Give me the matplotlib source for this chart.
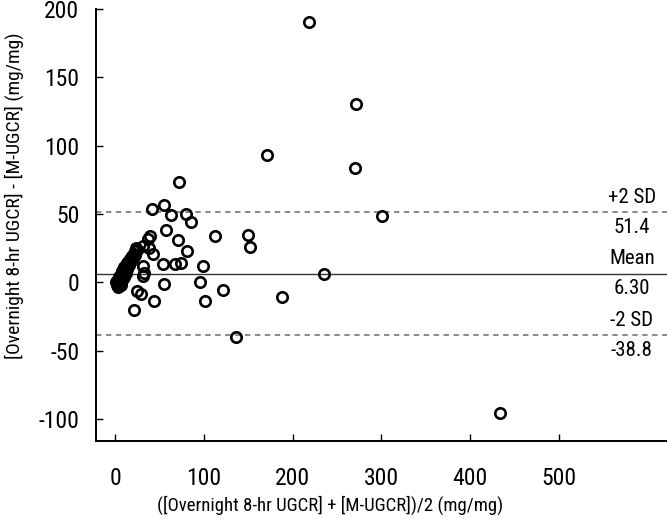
import numpy as np
import matplotlib
matplotlib.use('Agg')
import matplotlib.pyplot as plt
from matplotlib import font_manager

# pick a narrow sans face if one is installed
prefer = ['Liberation Sans Narrow', 'Roboto Condensed', 'Open Sans Condensed',
          'Noto Sans Condensed', 'DejaVu Sans Condensed', 'Noto Sans', 'DejaVu Sans']
narrow = [f for f in font_manager.fontManager.ttflist
          if f.style == 'normal' and f.weight in (400, 'normal', 'regular')
          and (f.stretch in ('condensed', 'semi-condensed', 'extra-condensed')
               or 'Condensed' in f.name or 'Narrow' in f.name)]
chosen = None
for name in prefer:
    for f in narrow:
        if f.name == name or (name.startswith(f.name) and f.name in name):
            chosen = f
            break
    if chosen:
        break
if chosen is None and narrow:
    chosen = narrow[0]
if chosen is not None:
    plt.rcParams['font.family'] = [chosen.name, 'DejaVu Sans']
    plt.rcParams['font.stretch'] = chosen.stretch
else:
    plt.rcParams['font.family'] = ['Liberation Sans', 'DejaVu Sans']
plt.rcParams['axes.unicode_minus'] = False

# Mean of the two methods (x) and difference (y)
mean_vals = [218.5, 271, 171.5, 270.6, 300.3, 113, 149.4, 152, 98.8, 235, 95.7,
             121.3, 101.4, 187.7, 136.3, 434,
             71.7, 41.3, 55.2, 62.7, 80.3, 85.6, 57.4, 39.4, 37.5, 71.3, 80.7,
             42.5, 54.4, 67.9, 74.3, 31.9, 54.8, 25.1, 28.9, 43.9, 21.7, 32, 38,
             25, 32.7, 31.2,
             1, 2, 2, 3, 3, 4, 4, 5, 5, 6, 6, 7, 7, 8, 8, 9, 9, 10, 10, 11, 12,
             12, 13, 14, 15, 16, 17, 18, 19, 20, 21, 22, 23, 24]
diff_vals = [190.5, 130.3, 93, 83.4, 48.7, 34, 34.8, 26, 11.7, 6.4, 0,
             -5.4, -13.4, -11, -39.6, -95.8,
             73.7, 53.8, 56.3, 49.4, 50.2, 44.5, 38.4, 34.3, 31.8, 31.1, 23,
             20.8, 13.5, 13.5, 14.2, 11.7, -1.2, -6.6, -8.5, -13.9, -20, 27, 25.5,
             24, 6.9, 4.5,
             0, -2, 1, -3, 2, 0, 3, -1, 4, 1, 5, -2, 6, 2, 8, 3, 9, 4, 11, 6, 12,
             7, 14, 10, 15, 13, 17, 16, 19, 18, 21, 20, 23, 25]

mean_diff = 6.30
upper = 51.4
lower = -38.8

fig = plt.figure(figsize=(6.67, 5.19), dpi=100)
ax = fig.add_axes([96 / 667, 1 - 441 / 519, 571 / 667, 432 / 519])

ax.axhline(upper, color='#808080', lw=1.3, ls=(0, (3, 2.5)))
ax.axhline(lower, color='#808080', lw=1.3, ls=(0, (3, 2.5)))
ax.axhline(mean_diff, color='#333333', lw=1.0)

ax.plot(mean_vals, diff_vals, 'o', ms=7.5, mfc='none', mec='black', mew=1.9, zorder=3)

# line labels
labels = [(upper, '+2 SD', '51.4'), (mean_diff, 'Mean', '6.30'), (lower, '-2 SD', '-38.8')]
for yv, top, bottom in labels:
    ax.annotate(top, (582, yv), xytext=(0, 15), textcoords='offset pixels',
                ha='center', va='center', fontsize=15)
    ax.annotate(bottom, (582, yv), xytext=(0, -15), textcoords='offset pixels',
                ha='center', va='center', fontsize=15)

ax.set_xlim(-21.4, 621.6)
ax.set_ylim(-116, 200)
ax.set_xticks(np.arange(0, 501, 100))
ax.set_yticks(np.arange(-100, 201, 50))

for side in ['top', 'right']:
    ax.spines[side].set_visible(False)
for side in ['left', 'bottom']:
    ax.spines[side].set_linewidth(1.4)

ax.tick_params(axis='x', direction='in', length=5, width=1, pad=19, labelsize=17)
ax.tick_params(axis='y', direction='in', length=5, width=1, pad=12, labelsize=17)

ax.set_xlabel('([Overnight 8-hr UGCR] + [M-UGCR])/2 (mg/mg)', fontsize=13.5)
ax.set_ylabel('[Overnight 8-hr UGCR] - [M-UGCR] (mg/mg)', fontsize=14)
ax.xaxis.set_label_coords(0.41, -0.127)
ax.yaxis.set_label_coords(-0.126, 0.567)

fig.savefig('out.png', dpi=100)
